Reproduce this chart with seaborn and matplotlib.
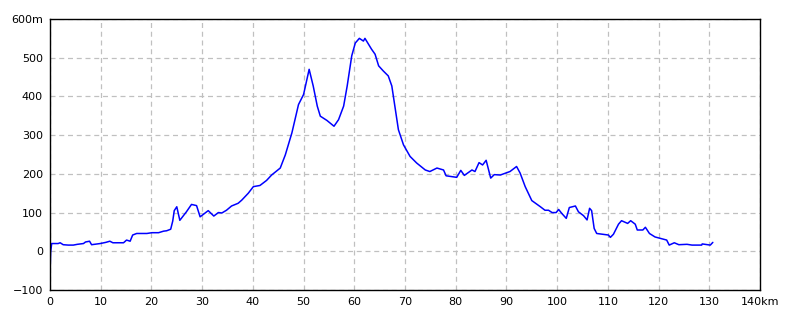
import matplotlib
matplotlib.use("Agg")
import matplotlib.pyplot as plt
import seaborn as sns
import pandas as pd

distance_km = [0.0, 0.13, 0.33, 1.6, 2.0, 2.6, 3.6, 4.6, 5.4, 6.6, 7.0, 7.8, 8.2, 9.9,
               11.0, 11.8, 12.4, 14.5, 15.1, 15.8, 16.3, 17.1, 19.1, 20.1, 21.4, 22.4,
               23.0, 23.8, 24.2, 24.5, 25.0, 25.6, 26.9, 27.9, 28.9, 29.6, 31.2, 32.3,
               33.2, 33.9, 34.8, 35.8, 37.1, 37.8, 39.1, 40.1, 41.4, 42.7, 43.7, 45.4,
               46.4, 47.7, 49.0,
               50.0, 51.1, 51.9, 52.7, 53.3, 54.6, 56.0, 56.9, 57.9, 58.6, 59.5, 60.2,
               61.0, 61.8, 62.1, 63.4, 64.1, 64.8, 65.7, 66.7, 67.4, 68.0, 68.7, 69.7,
               71.0, 72.3, 74.0, 74.9, 76.3, 77.6, 78.1, 80.2, 81.0, 81.7, 83.2, 83.8,
               84.6, 85.3, 86.0, 86.9, 87.6, 88.8, 90.7, 92.0, 92.7, 93.7, 95.0,
               96.7, 97.6, 98.3, 99.0, 99.8, 100.3, 100.9, 101.8, 102.4, 103.6, 104.2,
               105.2, 105.9, 106.4, 106.8, 107.3, 107.8, 110.1, 110.5, 111.1, 112.1,
               112.7, 113.9, 114.5, 115.4,
               115.8, 116.9, 117.4, 118.2, 119.3, 121.6, 122.1, 123.1, 124.0, 125.6,
               126.6, 128.5, 128.6, 130.2, 130.7]
elevation_m = [-57, -2, 20, 20, 22, 17, 16, 16, 18, 20, 24, 26, 17, 20,
               23, 26, 22, 22, 29, 26, 42, 46, 46, 48, 48, 52,
               53, 57, 78, 105, 115, 80, 102, 121, 118, 89, 105, 91,
               100, 99, 106, 117, 124, 132, 150, 167, 170, 183, 197, 215,
               249, 306, 379,
               405, 470, 427, 375, 349, 338, 323, 340, 375, 427, 505, 538,
               550, 543, 550, 522, 509, 479, 466, 453, 427, 375, 314, 275,
               245, 228, 210, 206, 215, 210, 195, 191, 209, 196, 210, 206,
               229, 223, 235, 189, 198, 197, 206, 219, 202, 167, 131,
               115, 106, 106, 100, 100, 108, 98, 85, 113, 117, 102,
               92, 81, 111, 105, 59, 46, 42, 36, 44, 70,
               79, 72, 79, 70,
               55, 55, 62, 46, 37, 29, 16, 22, 17, 18,
               16, 16, 19, 16, 23]

x_ticks = [0, 10, 20, 30, 40, 50, 60, 70, 80, 90, 100, 110, 120, 130, 140]
x_labels = ["0", "10", "20", "30", "40", "50", "60", "70", "80", "90", "100",
            "110", "120", "130", "140km"]
y_ticks = [-100, 0, 100, 200, 300, 400, 500, 600]
y_labels = ["\u2212100", "0", "100", "200", "300", "400", "500", "600m"]

df = pd.DataFrame({"distance": distance_km, "elevation": elevation_m})

sns.set_style("white")
plt.rcParams["font.family"] = ["DejaVu Sans"]

fig = plt.figure(figsize=(8, 3.2), dpi=100)
ax = fig.add_axes([0.0625, 0.09375, 0.8875, 0.8469])
sns.lineplot(data=df, x="distance", y="elevation", ax=ax, color="#0000ff",
             linewidth=1.1, estimator=None, sort=False)

ax.set_xlim(0, 140)
ax.set_ylim(-100, 600)
ax.set_xticks(x_ticks)
ax.set_xticklabels(x_labels)
ax.set_yticks(y_ticks)
ax.set_yticklabels(y_labels)
ax.tick_params(length=0, labelsize=8, pad=5, colors="black")
ax.grid(True, color="#c0c0c0", linestyle=(0, (4, 3)), linewidth=0.9)
ax.set_xlabel("")
ax.set_ylabel("")
for s in ax.spines.values():
    s.set_color("black")
    s.set_linewidth(1.0)
    s.set_visible(True)

fig.savefig("out.png", dpi=100, facecolor="white")
